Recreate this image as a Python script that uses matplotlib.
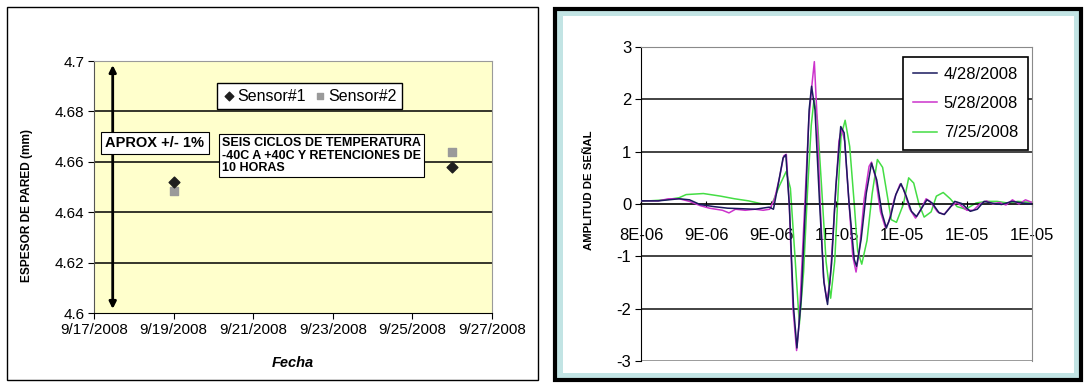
import matplotlib
matplotlib.use("Agg")
import matplotlib.pyplot as plt
from matplotlib.patches import Rectangle
import numpy as np

plt.rcParams['font.family'] = ['Liberation Sans', 'DejaVu Sans']

# --- left chart data: wall thickness per sensor ---
fechas = [19, 26]                      # day of September 2008
sensor1 = [4.6519, 4.6578]
sensor2 = [4.6486, 4.6639]
fecha_ticks = [17, 19, 21, 23, 25, 27]
fecha_labels = ['9/17/2008', '9/19/2008', '9/21/2008', '9/23/2008', '9/25/2008', '9/27/2008']
espesor_ticks = [4.6, 4.62, 4.64, 4.66, 4.68, 4.7]
espesor_labels = ['4.6', '4.62', '4.64', '4.66', '4.68', '4.7']

# --- right chart data: signal amplitude vs time (microseconds) ---
t_0428 = [8.40, 8.506, 8.57, 8.634, 8.698, 8.762, 8.847, 8.932, 9.017, 9.102, 9.187, 9.213,
          9.24, 9.272, 9.289, 9.311, 9.336, 9.357, 9.383, 9.411, 9.432, 9.447, 9.468, 9.496,
          9.523, 9.545, 9.570, 9.596, 9.626, 9.647, 9.677, 9.709, 9.723, 9.751, 9.783, 9.815,
          9.847, 9.879, 9.906, 9.932, 9.964, 9.996, 10.028, 10.06, 10.091, 10.123, 10.155,
          10.187, 10.23, 10.262, 10.294, 10.326, 10.368, 10.421, 10.464, 10.506, 10.549,
          10.613, 10.677, 10.74, 10.8]
a_0428 = [0.06, 0.06, 0.08, 0.10, 0.08, -0.01, -0.05, -0.08, -0.09, -0.10, -0.06, -0.10,
          0.34, 0.88, 0.94, -0.05, -1.96, -2.75, -1.83, 0.08, 1.80, 2.25, 1.80, 0.02,
          -1.50, -1.92, -1.13, 0.34, 1.48, 1.36, 0.02, -1.06, -1.19, -0.68, 0.21, 0.78,
          0.46, -0.17, -0.46, -0.24, 0.18, 0.39, 0.15, -0.14, -0.24, -0.08, 0.08,
          0.02, -0.17, -0.20, -0.08, 0.05, 0.01, -0.14, -0.10, 0.05, 0.02,
          -0.01, 0.05, 0.02, 0.0]

t_0528 = [8.40, 8.506, 8.57, 8.634, 8.698, 8.762, 8.82, 8.90, 8.94, 8.98, 9.04, 9.10, 9.15, 9.19,
          9.22, 9.25, 9.276, 9.292, 9.31, 9.333, 9.355, 9.37, 9.39, 9.41, 9.43, 9.45, 9.464,
          9.48, 9.50, 9.52, 9.54, 9.56, 9.59, 9.615, 9.632, 9.65, 9.675, 9.70, 9.72, 9.74,
          9.77, 9.80, 9.815, 9.84, 9.87, 9.90, 9.92, 9.955, 9.99, 10.01, 10.05, 10.085,
          10.11, 10.15, 10.175, 10.22, 10.26, 10.30, 10.34, 10.40, 10.44, 10.48, 10.52,
          10.56, 10.60, 10.64, 10.68, 10.72, 10.76, 10.80]
a_0528 = [0.06, 0.06, 0.10, 0.10, 0.05, -0.03, -0.08, -0.12, -0.17, -0.10, -0.12, -0.10, -0.12, -0.10,
          0.10, 0.50, 0.92, 0.95, 0.0, -2.0, -2.8, -2.3, -1.0, 0.3, 1.6, 2.3, 2.72,
          1.7, 0.0, -1.4, -1.85, -1.5, 0.0, 1.2, 1.45, 1.2, 0.1, -1.0, -1.3, -0.9,
          0.1, 0.72, 0.80, 0.5, -0.15, -0.45, -0.35, 0.1, 0.38, 0.3, -0.1, -0.27,
          -0.15, 0.1, 0.05, -0.15, -0.2, -0.05, 0.03, -0.12, -0.12, 0.0, 0.06,
          0.0, 0.03, -0.02, 0.08, 0.0, 0.08, 0.03]

t_0725 = [8.40, 8.55, 8.634, 8.677, 8.783, 8.889, 8.974, 9.06, 9.145, 9.204, 9.25, 9.291,
          9.317, 9.345, 9.372, 9.398, 9.423, 9.445, 9.462, 9.483, 9.509, 9.536, 9.564, 9.589,
          9.611, 9.628, 9.653, 9.681, 9.709, 9.730, 9.755, 9.787, 9.819, 9.851, 9.883, 9.915,
          9.936, 9.968, 10.011, 10.043, 10.074, 10.106, 10.138, 10.181, 10.213, 10.255,
          10.298, 10.34, 10.394, 10.457, 10.521, 10.585, 10.649, 10.713, 10.8]
a_0725 = [0.05, 0.08, 0.12, 0.18, 0.20, 0.15, 0.10, 0.06, 0.0, 0.0, 0.35, 0.62,
          0.30, -1.0, -2.3, -1.3, 0.3, 1.5, 2.0, 1.6, 0.3, -1.1, -1.8, -1.1,
          0.3, 1.3, 1.6, 1.1, 0.0, -0.9, -1.15, -0.7, 0.2, 0.85, 0.7, 0.1,
          -0.3, -0.35, 0.0, 0.5, 0.4, 0.0, -0.25, -0.15, 0.15, 0.22,
          0.10, -0.05, -0.10, 0.02, 0.05, 0.05, 0.02, 0.05, 0.03]
t_ticks = [8.4, 8.8, 9.2, 9.6, 10.0, 10.4, 10.8]
t_labels = ['8E-06', '9E-06', '9E-06', '1E-05', '1E-05', '1E-05', '1E-05']
amp_ticks = [-3, -2, -1, 0, 1, 2, 3]

W, H = 1084, 383
fig = plt.figure(figsize=(W / 100, H / 100), dpi=100)

def px_rect(x0, y0, x1, y1, **kw):
    # rectangle given in image pixels (origin top-left)
    return Rectangle((x0 / W, 1 - y1 / H), (x1 - x0) / W, (y1 - y0) / H,
                     transform=fig.transFigure, zorder=-10, **kw)

# panel frames
fig.patches.append(px_rect(7, 7, 538, 380, fc='white', ec='black', lw=1))
fig.patches.append(px_rect(555, 9, 1081, 380, fc='#c2e4e4', ec='black', lw=3))
fig.patches.append(px_rect(563, 16, 1074, 373, fc='white', ec='none'))

# ---------------- left chart ----------------
ax1 = fig.add_axes([94 / W, 1 - 313 / H, 398 / W, 252 / H])
ax1.set_facecolor('#ffffcc')
ax1.set_xlim(17, 27)
ax1.set_ylim(4.6, 4.7)
for y in espesor_ticks[1:-1]:
    ax1.axhline(y, color='black', lw=1.1, zorder=1)
ax1.scatter(fechas, sensor1, marker='D', s=30, color='#1f1f1f', zorder=4, label='Sensor#1')
ax1.scatter(fechas, sensor2, marker='s', s=30, color='#9a9a9a', zorder=3, label='Sensor#2')
ax1.set_xticks(fecha_ticks)
ax1.set_xticklabels(fecha_labels, fontsize=11)
ax1.set_yticks(espesor_ticks)
ax1.set_yticklabels(espesor_labels, fontsize=11)
ax1.tick_params(length=4, width=0.8, pad=3)
for s in ['top', 'right']:
    ax1.spines[s].set_color('#9a9a9a')
ax1.spines['left'].set_color('#555555')
ax1.set_xlabel('Fecha', fontsize=10.5, fontweight='bold', style='italic', labelpad=14)
ax1.set_ylabel('ESPESOR DE PARED (mm)', fontsize=8.6, fontweight='bold')
ax1.yaxis.set_label_coords(-0.153, 0.425)

ax1.annotate('', xy=(17.47, 4.6005), xytext=(17.47, 4.6995),
             arrowprops=dict(arrowstyle='<|-|>', color='black', lw=2, mutation_scale=10),
             zorder=5)
ax1.text(17.28, 4.6675, 'APROX +/- 1%', fontsize=10.5, fontweight='bold', va='center', ha='left',
         bbox=dict(boxstyle='square,pad=0.3', fc='white', ec='black', lw=0.8), zorder=6)
ax1.text(20.22, 4.6625, 'SEIS CICLOS DE TEMPERATURA\n-40C A +40C Y RETENCIONES DE\n10 HORAS',
         fontsize=9, fontweight='bold', va='center', ha='left', linespacing=1.05,
         bbox=dict(boxstyle='square,pad=0.25', fc='white', ec='black', lw=0.8), zorder=6)
leg1 = ax1.legend(loc='upper left', bbox_to_anchor=(0.31, 0.913), ncol=2, fontsize=11.5,
                  frameon=True, fancybox=False, edgecolor='black', framealpha=1,
                  handletextpad=0.1, columnspacing=0.5, borderpad=0.35, handlelength=0.8,
                  markerscale=0.8, borderaxespad=0)
leg1.get_frame().set_linewidth(1)

# ---------------- right chart ----------------
ax2 = fig.add_axes([641 / W, 1 - 361 / H, 391 / W, 314 / H])
ax2.set_facecolor('white')
ax2.set_xlim(8.4, 10.8)
ax2.set_ylim(-3, 3)
for y in amp_ticks:
    if y != 0:
        ax2.axhline(y, color='#222222' if abs(y) < 3 else '#8a8a8a', lw=1.2, zorder=1)
ax2.plot(t_0428, a_0428, color='#1a1a5e', lw=1.1, label='4/28/2008', zorder=4)
ax2.plot(t_0528, a_0528, color='#cc33cc', lw=1.1, label='5/28/2008', zorder=3)
ax2.plot(t_0725, a_0725, color='#44dd44', lw=1.1, label='7/25/2008', zorder=2)
ax2.spines['bottom'].set_position(('data', 0))
ax2.spines['bottom'].set_linewidth(1.2)
for s in ['top', 'right']:
    ax2.spines[s].set_color('#8a8a8a')
ax2.set_xticks(t_ticks)
ax2.set_xticklabels(t_labels, fontsize=12)
ax2.set_yticks(amp_ticks)
ax2.set_yticklabels([str(v) for v in amp_ticks], fontsize=12)
ax2.tick_params(axis='x', length=4, direction='inout', pad=15)
ax2.tick_params(axis='y', length=4, pad=3)
ax2.set_ylabel('AMPLITUD DE SEÑAL', fontsize=8.2, fontweight='bold')
ax2.yaxis.set_label_coords(-0.12, 0.545)
leg2 = ax2.legend(loc='upper right', bbox_to_anchor=(0.99, 0.968), fontsize=12,
                  frameon=True, fancybox=False, edgecolor='black', framealpha=1,
                  handlelength=1.45, handletextpad=0.4, labelspacing=0.85, borderpad=0.6,
                  borderaxespad=0)
leg2.get_frame().set_linewidth(1.2)

fig.savefig('out.png', dpi=100)
